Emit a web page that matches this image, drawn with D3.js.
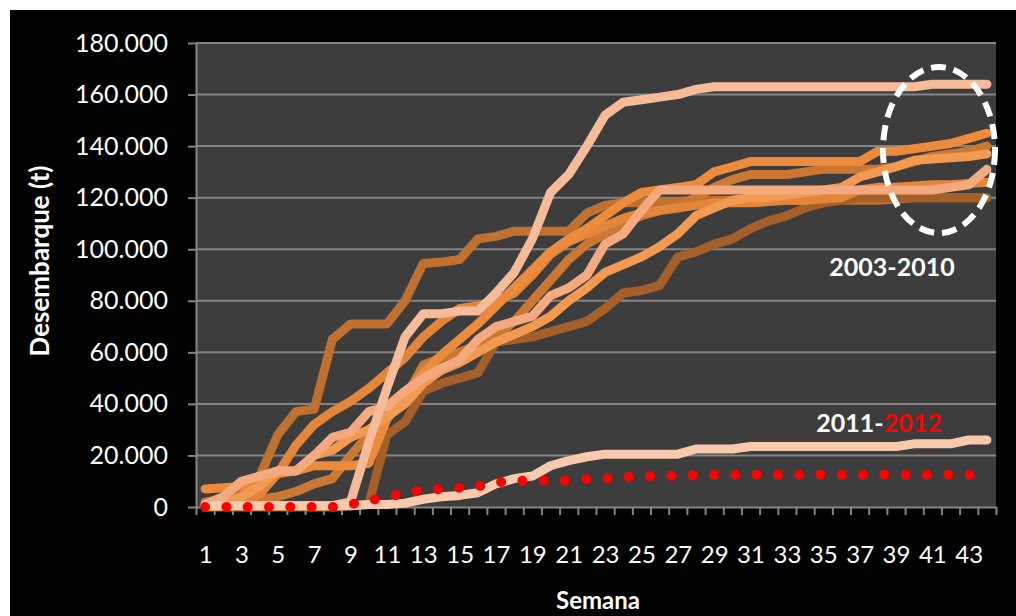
<!DOCTYPE html>
<html>
<head>
<meta charset="utf-8">
<script src="https://cdn.jsdelivr.net/npm/d3@7"></script>
<style>
  html, body { margin: 0; padding: 0; background: #ffffff; }
  svg { display: block; }
  text { font-family: Lato, "Open Sans", sans-serif; }
</style>
</head>
<body>
<script>
// ---------------- DATA ----------------
const weeks = [1,2,3,4,5,6,7,8,9,10,11,12,13,14,15,16,17,18,19,20,21,22,23,24,25,26,27,28,29,30,31,32,33,34,35,36,37,38,39,40,41,42,43,44];
const xTickLabels = [1,3,5,7,9,11,13,15,17,19,21,23,25,27,29,31,33,35,37,39,41,43];
const yTicks = [0,20000,40000,60000,80000,100000,120000,140000,160000,180000];

const serieA = [2000,3000,5000,12000,28000,37000,38000,65000,71000,71000,71000,80000,94500,95000,96000,104000,105000,107000,107000,107000,107000,114000,117000,118000,118000,118000,118500,119000,119000,119000,119000,119000,119000,119000,119000,119000,119000,119000,119500,120000,120000,120000,120000,120000];
const serieB = [0,0,0,0,0,0,0,0,500,1000,28000,33000,45000,48000,50000,52000,64000,65000,66000,68000,70000,72000,77000,83000,84000,86000,97000,99000,102000,104000,108000,111000,113000,116000,118000,119000,120000,120000,120000,120000,120000,120000,120000,120000];
const serieC = [500,1000,2000,3000,4000,6000,9000,11000,20000,28000,36000,42000,55000,58000,60000,63000,66000,72000,80000,88000,96000,102000,106000,110000,113000,115000,117000,120000,124000,127000,129000,129000,129000,130000,131000,131000,131000,131000,132000,134000,136000,137000,138000,140000];
const serieD = [0,500,1500,5000,13000,24000,32000,37000,41000,46000,52000,58000,66000,72000,77000,78000,80000,83000,90000,98000,103000,106000,109000,112000,114000,115000,116000,117000,118000,118000,118000,118500,119000,119000,119500,120000,123000,124000,124000,124500,125000,125000,125500,126000];
const serieE = [7000,7500,8000,10000,13000,14000,16000,16000,16000,17000,34000,44000,52000,59000,65000,71000,78000,85000,92000,99000,104000,108000,113000,118000,122000,123000,124000,125000,130000,132000,134000,134000,134000,134000,134000,134000,134000,138000,138000,139000,140000,141000,143000,145000];
const serieF = [1000,2000,4000,8000,14000,14000,20000,22000,27000,30000,35000,40000,48000,53000,56000,60000,64000,67000,70000,74000,80000,85000,91000,94000,97000,101000,106000,113000,116000,119000,120000,120000,121000,122000,123000,124000,128000,130000,132000,134500,135000,135500,136000,137000];
const serieG = [1000,4000,10000,12000,14000,14000,20000,27000,29000,37000,39000,45000,50000,54000,57000,65000,70000,72000,74000,82000,85000,90000,102000,106000,115000,123000,123000,123000,123000,123000,123000,123000,123000,123000,123000,123000,123000,123000,123000,123000,123000,124000,125000,131000];
const serieH = [500,500,500,500,500,500,500,500,2000,25000,46000,66000,75000,75000,76000,76000,83000,91000,104000,122000,129000,140000,152000,157000,158000,159000,160000,162000,163000,163000,163000,163000,163000,163000,163000,163000,163000,163000,163000,163000,164000,164000,164000,164000];
const serie2011 = [500,500,500,500,500,500,500,500,500,1000,1000,1500,3000,4000,4500,5500,9000,11000,12000,16000,18000,19500,20500,20500,20500,20500,20500,22500,22500,22500,23500,23500,23500,23500,23500,23500,23500,23500,23500,24500,24500,24500,26000,26000];
const serie2012 = [0,0,0,0,0,0,0,0,1000,2500,3800,5500,6500,7000,7500,8000,9500,10200,10200,10200,10200,10800,11000,11500,11800,12000,12200,12400,12500,12500,12500,12500,12500,12500,12500,12500,12500,12500,12500,12500,12500,12500,12500,12500];

const seriesOrder = [serieA, serieB, serieC, serieD, serieE, serieF, serieG, serieH, serie2011];
const seriesColors = ["#c0702f", "#a5602a", "#cc7835", "#e3853a", "#ec8b3c", "#f29a52", "#f4a97f", "#f6bb98", "#f8c9ad"];

// ---------------- LAYOUT ----------------
const W = 1016, H = 616;
const plot = { left: 196, right: 996, top: 43, bottom: 507 };

const svg = d3.select("body").append("svg").attr("width", W).attr("height", H);
svg.append("rect").attr("x", 0).attr("y", 0).attr("width", W).attr("height", H).attr("fill", "#ffffff");
svg.append("rect").attr("x", 10).attr("y", 10).attr("width", W - 10).attr("height", H - 10).attr("fill", "#000000");

svg.append("rect")
  .attr("x", plot.left).attr("y", plot.top)
  .attr("width", plot.right - plot.left).attr("height", plot.bottom - plot.top)
  .attr("fill", "#3d3d3d");

const x = d3.scalePoint().domain(weeks).range([plot.left, plot.right]).padding(0.5);
const xEdge = d3.scaleLinear().domain([weeks[0] - 0.5, weeks[weeks.length - 1] + 0.5]).range([plot.left, plot.right]);
const y = d3.scaleLinear().domain([0, 180000]).range([plot.bottom, plot.top]);

const fmt = d3.formatLocale({ decimal: ",", thousands: ".", grouping: [3], currency: ["", ""] }).format(",");
const gridColor = "#858585";

// gridlines
svg.append("g").selectAll("line").data(yTicks.filter(d => d > 0)).join("line")
  .attr("x1", plot.left).attr("x2", plot.right)
  .attr("y1", d => y(d)).attr("y2", d => y(d))
  .attr("stroke", gridColor).attr("stroke-width", 2);

// y axis
const yAxis = svg.append("g").attr("transform", `translate(${plot.left},0)`)
  .call(d3.axisLeft(y).tickValues(yTicks).tickFormat(fmt).tickSize(8).tickSizeOuter(0).tickPadding(20));
yAxis.select(".domain").attr("stroke", gridColor).attr("stroke-width", 2);
yAxis.selectAll(".tick line").attr("stroke", gridColor).attr("stroke-width", 2);
yAxis.selectAll(".tick text").attr("fill", "#ffffff").attr("font-size", 25).attr("font-family", "Lato");

// x axis: boundary ticks
const edges = weeks.map(w => w - 0.5).concat([weeks[weeks.length - 1] + 0.5]);
const xAxisTicks = svg.append("g").attr("transform", `translate(0,${plot.bottom})`)
  .call(d3.axisBottom(xEdge).tickValues(edges).tickFormat("").tickSize(8).tickSizeOuter(0));
xAxisTicks.select(".domain").attr("stroke", gridColor).attr("stroke-width", 2);
xAxisTicks.selectAll(".tick line").attr("stroke", gridColor).attr("stroke-width", 2);

// x axis labels
const xAxisLabels = svg.append("g").attr("transform", `translate(0,${plot.bottom})`)
  .call(d3.axisBottom(x).tickValues(xTickLabels).tickSize(0).tickPadding(39));
xAxisLabels.select(".domain").remove();
xAxisLabels.selectAll(".tick text").attr("fill", "#ffffff").attr("font-size", 24).attr("font-family", "Lato");

// axis titles
svg.append("text").attr("x", 598).attr("y", 609).attr("text-anchor", "middle")
  .attr("fill", "#ffffff").attr("font-size", 24).attr("font-weight", "bold").text("Semana");
svg.append("text").attr("transform", "translate(49,261) rotate(-90)").attr("text-anchor", "middle")
  .attr("fill", "#ffffff").attr("font-size", 26).attr("font-weight", "bold").text("Desembarque (t)");

// lines
const line = d3.line().x((d, i) => x(weeks[i])).y(d => y(d));
const linesG = svg.append("g");
seriesOrder.forEach((s, k) => {
  linesG.append("path").datum(s)
    .attr("d", line)
    .attr("fill", "none")
    .attr("stroke", seriesColors[k])
    .attr("stroke-width", 9)
    .attr("stroke-linejoin", "round")
    .attr("stroke-linecap", "round");
});
linesG.append("path").datum(serie2012)
  .attr("d", line)
  .attr("fill", "none")
  .attr("stroke", "#ff0000")
  .attr("stroke-width", 10)
  .attr("stroke-linecap", "round")
  .attr("stroke-dasharray", "0 21.3");

// annotations
svg.append("ellipse").attr("cx", 939).attr("cy", 150).attr("rx", 56).attr("ry", 83)
  .attr("fill", "none").attr("stroke", "#ffffff").attr("stroke-width", 6).attr("stroke-dasharray", "15 8");

svg.append("text").attr("x", 892).attr("y", 276).attr("text-anchor", "middle")
  .attr("fill", "#ffffff").attr("font-size", 25).attr("font-weight", "bold").text("2003-2010");

const t2 = svg.append("text").attr("x", 879).attr("y", 432).attr("text-anchor", "middle")
  .attr("font-size", 25).attr("font-weight", "bold");
t2.append("tspan").attr("fill", "#ffffff").text("2011-");
t2.append("tspan").attr("fill", "#ff0000").text("2012");
</script>
</body>
</html>
